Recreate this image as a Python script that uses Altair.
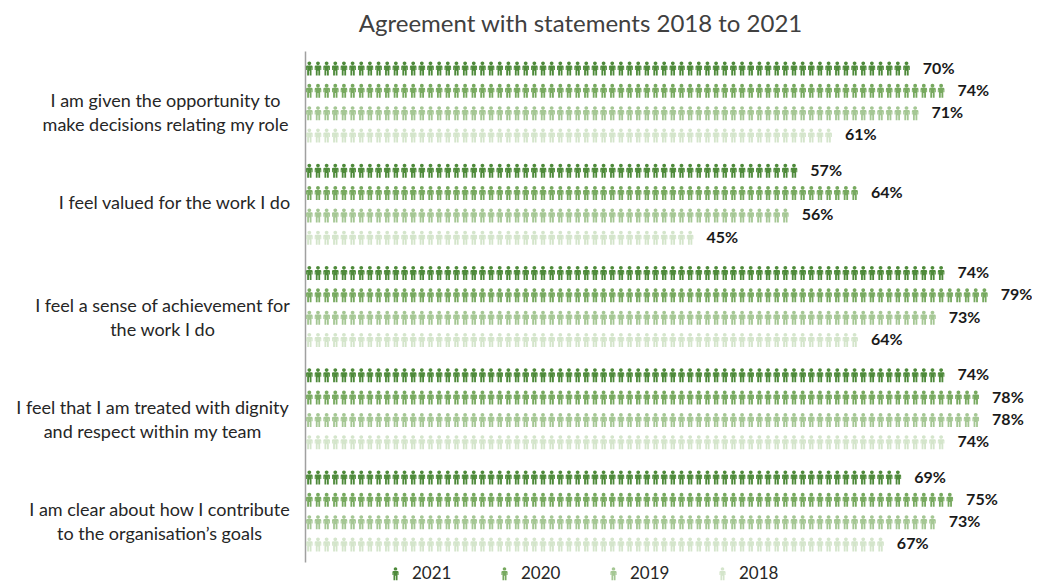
import altair as alt
import pandas as pd

# ---- data ----
questions = [
    "I am given the opportunity to|make decisions relating my role",
    "I feel valued for the work I do",
    "I feel a sense of achievement for|the work I do",
    "I feel that I am treated with dignity|and respect within my team",
    "I am clear about how I contribute|to the organisation\u2019s goals",
]
years = ["2021", "2020", "2019", "2018"]
values_2021 = [70, 57, 74, 74, 69]
values_2020 = [74, 64, 79, 78, 75]
values_2019 = [71, 56, 73, 78, 73]
values_2018 = [61, 45, 64, 74, 67]
colors = ["#4e8a3a", "#77a95f", "#a5c794", "#d4e5cb"]

label_pad = [140, 131, 143, 153, 146]

series = {"2021": values_2021, "2020": values_2020, "2019": values_2019, "2018": values_2018}
rows = []
for y in years:
    for q, v in zip(questions, series[y]):
        rows.append({"question": q, "year": y, "value": v})
df = pd.DataFrame(rows)

person = (
    "M0,-1 A0.27,0.26 0 1,1 0,-0.48 A0.27,0.26 0 1,1 0,-1 Z "
    "M-0.3,-0.44 L0.3,-0.44 Q0.47,-0.44 0.47,-0.28 L0.47,0.2 L0.34,0.2 L0.34,-0.16 "
    "L0.31,-0.16 L0.31,1 L0.05,1 L0.05,0.3 L-0.05,0.3 L-0.05,1 L-0.31,1 L-0.31,-0.16 "
    "L-0.34,-0.16 L-0.34,0.2 L-0.47,0.2 L-0.47,-0.28 Q-0.47,-0.44 -0.3,-0.44 Z"
)

FONT = "Lato"

pad_cond = {
    "condition": [{"test": f"datum.value == '{q}'", "value": p} for q, p in zip(questions, label_pad)],
    "value": 140,
}

y_enc = alt.Y(
    "question:N",
    sort=questions,
    scale=alt.Scale(type="band", paddingInner=0.127, paddingOuter=0.0625),
    axis=alt.Axis(
        title=None,
        ticks=False,
        tickSize=0,
        domainColor="#a0a0a0",
        domainWidth=1.5,
        labelExpr="split(datum.label, '|')",
        labelAlign="center",
        labelBaseline="middle",
        labelPadding=pad_cond,
        labelFont=FONT,
        labelFontSize=18,
        labelColor="#262626",
        labelLineHeight=24,
        labelLimit=400,
    ),
)
yoff = alt.YOffset("year:N", sort=years, scale=alt.Scale(type="band", paddingInner=0, paddingOuter=0))
xscale = alt.Scale(domain=[0, 84], nice=False)

base = alt.Chart(df)

icons = (
    base.transform_calculate(seq="sequence(0, datum.value)")
    .transform_flatten(["seq"])
    .transform_calculate(pos="datum.seq + 0.5")
    .mark_point(shape=person, filled=True, size=196, opacity=1, strokeWidth=0)
    .encode(
        x=alt.X("pos:Q", scale=xscale, axis=None),
        y=y_enc,
        yOffset=yoff,
        color=alt.Color(
            "year:N",
            sort=years,
            scale=alt.Scale(domain=years, range=colors),
            legend=alt.Legend(
                title=None,
                orient="none",
                direction="horizontal",
                legendX=82,
                legendY=514,
                symbolType=person,
                symbolSize=170,
                symbolStrokeWidth=0,
                labelFont=FONT,
                labelFontSize=17,
                labelColor="#262626",
                columnPadding=44,
                labelOffset=8,
            ),
        ),
    )
)

labels = (
    base.transform_calculate(lab="datum.value + '%'")
    .mark_text(align="left", baseline="middle", dx=12, font=FONT, fontSize=16,
               fontWeight="bold", color="#1a1a1a")
    .encode(
        x=alt.X("value:Q", scale=xscale),
        y=alt.Y("question:N", sort=questions),
        yOffset=alt.YOffset("year:N", sort=years),
        text="lab:N",
    )
)

chart = (
    alt.layer(icons, labels)
    .properties(
        width=727,
        height=511,
        autosize=alt.AutoSizeParams(type="none"),
        padding={"left": 297, "top": 43, "right": 0, "bottom": 20},
        title=alt.TitleParams(
            "Agreement with statements 2018 to 2021",
            font=FONT,
            fontSize=24,
            fontWeight="normal",
            color="#404040",
            anchor="middle",
            dx=-88,
            offset=14,
        ),
    )
    .configure_view(stroke=None)
)

chart.save("out.html", embed_options={"renderer": "svg", "actions": False})
